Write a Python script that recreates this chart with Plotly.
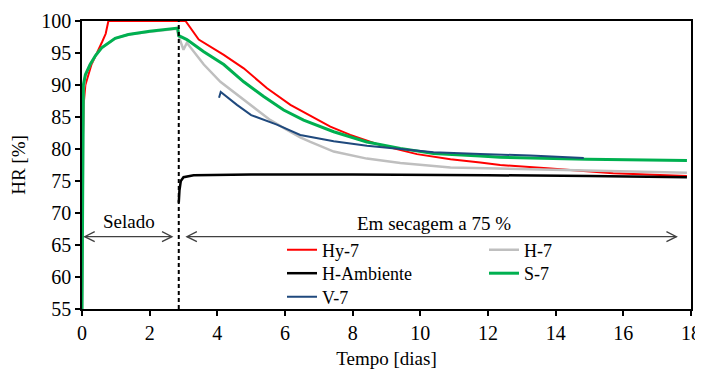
import plotly.graph_objects as go

# ---------------- data ----------------
hy7_t = [0.0, 0.02, 0.05, 0.1, 0.28, 0.5, 0.6, 0.7, 0.78, 3.02, 3.06, 3.45, 4.19, 4.78,
         5.47, 6.16, 6.95, 7.34, 7.93, 8.82, 9.9, 10.89, 11.77, 12.36, 13.75, 15.7, 17.88]
hy7_v = [55.0, 80.0, 87.0, 90.0, 93.2, 95.5, 96.8, 98.0, 100.0, 100.0, 100.0, 97.1, 94.7, 92.6,
         89.5, 86.9, 84.7, 83.5, 82.2, 80.6, 79.2, 78.4, 77.9, 77.5, 77.0, 76.2, 75.8]

h7_t = [0.0, 0.02, 0.04, 0.1, 0.24, 0.4, 0.58, 0.98, 1.37, 2.0, 2.8, 2.86, 3.0, 3.1, 3.6,
        4.09, 4.58, 5.07, 5.57, 6.06, 6.45, 6.75, 7.44, 8.42, 9.41, 10.89, 11.77, 14.73, 17.88]
h7_v = [55.0, 82.5, 89.0, 91.5, 93.2, 94.6, 95.8, 97.3, 97.9, 98.3, 98.8, 97.6, 95.5, 96.6, 93.2,
        90.5, 88.5, 86.4, 84.5, 83.0, 81.8, 81.1, 79.6, 78.5, 77.8, 77.1, 77.0, 76.6, 76.3]

amb_t = [2.86, 2.88, 2.92, 3.0, 3.3, 5.0, 8.0, 10.0, 12.0, 15.0, 17.88]
amb_v = [71.6, 73.5, 75.0, 75.6, 75.9, 76.0, 76.0, 76.0, 75.9, 75.8, 75.6]

s7_t = [0.0, 0.02, 0.04, 0.1, 0.24, 0.4, 0.58, 0.98, 1.37, 2.0, 2.83, 2.86, 3.1, 3.6, 4.19,
        4.78, 5.37, 5.96, 6.55, 7.44, 8.42, 9.41, 10.39, 11.77, 12.36, 14.93, 17.88]
s7_v = [55.0, 85.0, 90.0, 91.6, 93.2, 94.6, 95.8, 97.3, 97.9, 98.4, 98.9, 97.7, 97.1, 95.2, 93.2,
        90.5, 88.2, 86.1, 84.5, 82.7, 81.1, 80.1, 79.3, 78.9, 78.7, 78.4, 78.2]

v7_t = [4.05, 4.1, 4.58, 5.0, 5.76, 6.45, 7.44, 8.42, 9.41, 10.39, 11.77, 13.25, 14.83]
v7_v = [88.0, 88.9, 86.9, 85.3, 83.8, 82.2, 81.2, 80.5, 80.0, 79.5, 79.2, 79.0, 78.6]

x_ticks = [0, 2, 4, 6, 8, 10, 12, 14, 16, 18]
y_ticks = [55, 60, 65, 70, 75, 80, 85, 90, 95, 100]

t_split = 2.86
arrow_y = 66.3
sealed_arrow = [0.08, 2.66]
drying_arrow = [3.10, 17.57]

FONT = "Liberation Serif"

# plot area in figure pixels (figure is offset by the 8px page margin)
PL, PW, PT, PH = 74, 609, 13, 288

fig = go.Figure()
series = [
    ("Hy-7", hy7_t, hy7_v, "#FF0000", 2.0),
    ("H-7", h7_t, h7_v, "#BFBFBF", 2.5),
    ("H-Ambiente", amb_t, amb_v, "#000000", 2.5),
    ("S-7", s7_t, s7_v, "#00B050", 3.0),
    ("V-7", v7_t, v7_v, "#1F497D", 2.0),
]
# legend slot for each series: (line-start x, row centre y) in page pixels
legend_slots = [(288, 250), (490, 250), (288, 273.5), (490, 273.5), (288, 297)]

legends = {}
for i, ((name, t, v, c, w), (lx, ly)) in enumerate(zip(series, legend_slots)):
    key = "legend" if i == 0 else f"legend{i + 1}"
    fig.add_trace(go.Scatter(x=t, y=v, mode="lines", name=name,
                             line=dict(color=c, width=w), legend=key))
    legends[key] = dict(
        x=(lx - 6 - 82) / PW, y=(309 - ly) / PH, xanchor="left", yanchor="middle",
        bgcolor="rgba(0,0,0,0)", font=dict(family=FONT, size=18, color="black"),
        borderwidth=0)

shapes = [
    dict(type="line", xref="x", yref="y", x0=t_split, x1=t_split, y0=55, y1=100,
         line=dict(color="black", width=2, dash="4px,3px")),
]
for a, b in (sealed_arrow, drying_arrow):
    shapes.append(dict(type="line", xref="x", yref="y", x0=a, x1=b, y0=arrow_y, y1=arrow_y,
                       line=dict(color="#404040", width=1.3)))
    shapes.append(dict(type="path", xref="x", yref="y", xsizemode="pixel", ysizemode="pixel",
                       xanchor=a, yanchor=arrow_y, path="M10,5 L0,0 L10,-5",
                       line=dict(color="#404040", width=1.3)))
    shapes.append(dict(type="path", xref="x", yref="y", xsizemode="pixel", ysizemode="pixel",
                       xanchor=b, yanchor=arrow_y, path="M-10,5 L0,0 L-10,-5",
                       line=dict(color="#404040", width=1.3)))

annotations = [
    dict(x=1.4, y=68.6, xref="x", yref="y", text="Selado", showarrow=False,
         font=dict(family=FONT, size=19, color="black")),
    dict(x=10.39, y=68.4, xref="x", yref="y", text="Em secagem a 75 %", showarrow=False,
         font=dict(family=FONT, size=19, color="black")),
]

axis_common = dict(showline=True, linecolor="black", linewidth=1.5, mirror=True,
                   ticks="outside", ticklen=5, tickcolor="black", tickwidth=1.5,
                   showgrid=False, zeroline=False, automargin=False,
                   tickfont=dict(family=FONT, size=20, color="black"))

# the page body has an 8px default margin, so the figure is sized 695x362
fig.update_layout(
    width=695, height=362,
    margin=dict(l=PL, r=12, t=PT, b=61),
    paper_bgcolor="white", plot_bgcolor="white",
    font=dict(family=FONT, size=19, color="black"),
    xaxis=dict(range=[0, 18], tickvals=x_ticks,
               title=dict(text="Tempo [dias]", font=dict(family=FONT, size=19), standoff=9),
               **axis_common),
    yaxis=dict(range=[55, 100], tickvals=y_ticks,
               title=dict(text="HR [%]", font=dict(family=FONT, size=19), standoff=11),
               **axis_common),
    shapes=shapes,
    annotations=annotations,
    showlegend=True,
    **legends,
)

fig.write_html("out.html")
